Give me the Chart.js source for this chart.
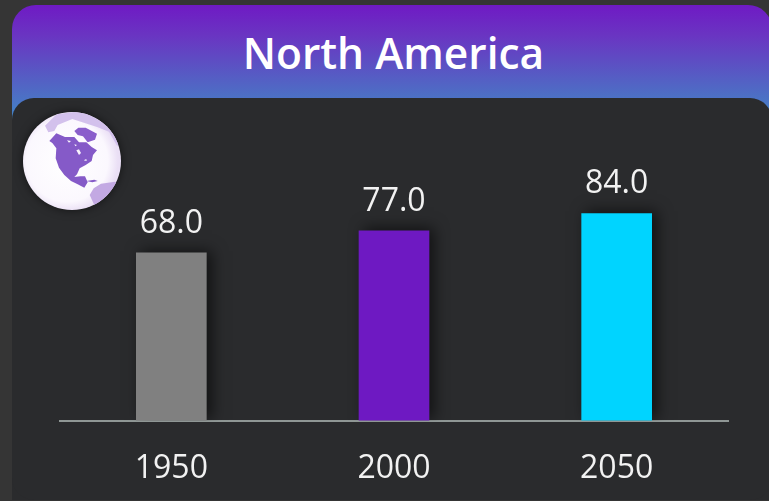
<!DOCTYPE html>
<html>
<head>
<meta charset="utf-8">
<title>North America</title>
<script src="https://cdn.jsdelivr.net/npm/chart.js@4"></script>
<style>
html, body { margin:0; padding:0; width:769px; height:501px; overflow:hidden; background:#353535; font-family:"Open Sans", sans-serif; }
#card { position:absolute; left:12px; top:5px; width:760px; height:495px; border-radius:24px 24px 0 0; overflow:hidden;
  background:linear-gradient(180deg, #6f1ac4 0%, #6a34c2 6%, #3f8ac6 24%, #2a2b2d 38%); }
#title { position:absolute; left:12px; top:20px; width:763px; text-align:center; color:#fff; font-size:42.5px; font-weight:600; line-height:66px; }
#panel { position:absolute; left:12px; top:98px; width:760px; height:402px; border-radius:22px; background:#2a2b2d; }
#chart { position:absolute; left:0; top:0; }
#globe { position:absolute; left:15px; top:105px; filter:drop-shadow(0 0 5px rgba(0,0,0,.55)); }
</style>
</head>
<body>
<div id="card"></div>
<div id="title">North America</div>
<div id="panel"></div>
<canvas id="chart" width="769" height="527"></canvas>
<svg id="globe" width="115" height="112" viewBox="0 0 345 336">
  <defs>
    <radialGradient id="ball" cx="45%" cy="50%" r="52%">
      <stop offset="0" stop-color="#ffffff"/>
      <stop offset=".8" stop-color="#fbf8fe"/>
      <stop offset="1" stop-color="#eadff5"/>
    </radialGradient>
    <clipPath id="ballClip"><circle cx="171" cy="168" r="147"/></clipPath>
  </defs>
  <circle cx="171" cy="168" r="147" fill="url(#ball)"/>
  <g clip-path="url(#ballClip)">
    <path fill="#d3c1ec" d="M90 62 L125 28 L200 18 L285 62 L318 118 L306 122 L282 80 L246 66 L172 42 L128 60 L118 78 L100 82 Z"/>
    <path fill="#c3a9e3" d="M224 270 L236 250 L258 236 L300 230 L322 244 L304 278 L268 306 L238 300 Z"/>
    <path fill="#8a5ecb" d="M178 78 L190 68 L212 68 L246 86 L240 104 L218 112 L204 94 L188 90 Z"/>
    <path fill="#855ac8" d="M103 108 L124 85 L150 96 L178 96 L192 112 L214 112 L230 126 L246 136 L234 150 L230 168 L212 180 L194 190 L186 208 L178 216 L196 214 L210 214 L218 232 L208 248 L188 238 L168 228 L148 210 L132 188 L122 160 L124 130 L112 114 Z"/>
    <path fill="#f8f3fc" d="M184 136 L192 133 L198 144 L192 150 Z M156 106 L168 108 L162 113 Z M206 166 L214 162 L215 168 Z M178 118 L186 120 L181 124 Z"/>
    <path fill="#855ac8" d="M214 228 L238 224 L248 228 L232 232 Z"/>
  </g>
</svg>
<script>
const categories = ['1950', '2000', '2050'];
const values = [68.0, 77.0, 84.0];
const barColors = ['#808080', '#6e19c2', '#00d4ff'];

// soft dark glow behind the bars
const barShadow = {
    id:'barShadow',
    beforeDatasetDraw(chart){
        const ctx = chart.ctx;
        ctx.save();
        ctx.shadowColor = 'rgba(0,0,0,0.6)';
        ctx.shadowBlur = 14;
        ctx.shadowOffsetX = 5;
        ctx.shadowOffsetY = -2;
    },
    afterDatasetDraw(chart){
        chart.ctx.restore();
    }
};

// value above each bar
const barValues = {
    id:'barValues',
    afterDatasetsDraw(chart){
        const ctx = chart.ctx;
        ctx.save();
        ctx.font = '32px "Open Sans"';
        ctx.fillStyle = '#f2f2f2';
        ctx.textAlign = 'center';
        ctx.textBaseline = 'alphabetic';
        chart.getDatasetMeta(0).data.forEach((bar, i) => {
            ctx.fillText(values[i].toFixed(1), bar.x, bar.y - 20);
        });
        ctx.restore();
    }
};

new Chart(
document.getElementById('chart'),
{
    type:'bar',
    data:{
        labels:categories,
        datasets:[{
            data:values,
            backgroundColor:barColors,
            barThickness:70
        }]
    },
    options:{
        responsive:false,
        animation:false,
        layout:{padding:{left:60, right:41, top:174, bottom:10}},
        plugins:{
            legend:{display:false},
            tooltip:{enabled:false}
        },
        scales:{
            x:{
                grid:{display:false, drawTicks:false},
                border:{color:'#8f9795', width:2},
                ticks:{color:'#f2f2f2', padding:29, font:{family:'"Open Sans"', size:32}, maxRotation:0}
            },
            y:{
                display:false,
                min:0,
                max:100
            }
        }
    },
    plugins:[barShadow, barValues]
});
</script>
</body>
</html>
